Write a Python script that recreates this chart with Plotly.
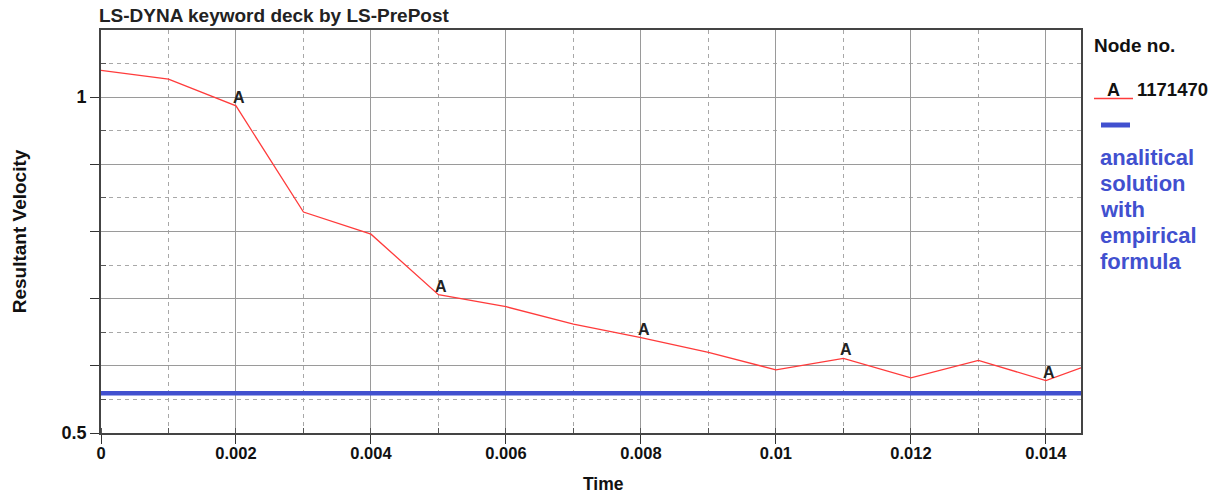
import plotly.graph_objects as go

# ---- data ----
time = [0.0, 0.001, 0.002, 0.003, 0.004, 0.005, 0.006, 0.007, 0.008,
        0.009, 0.010, 0.011, 0.012, 0.013, 0.014, 0.01452]
velocity = [1.040, 1.027, 0.987, 0.829, 0.796, 0.706, 0.688, 0.662, 0.642,
            0.620, 0.594, 0.611, 0.582, 0.608, 0.578, 0.597]
label_idx = [2, 5, 8, 11, 14]          # points carrying the "A" marker label
analytic_value = 0.559                 # analytical solution (constant)
x_range = [0.0, 0.01452]
y_range = [0.5, 1.1]
x_ticks = [0, 0.002, 0.004, 0.006, 0.008, 0.010, 0.012, 0.014]
x_ticktext = ["0", "0.002", "0.004", "0.006", "0.008", "0.01", "0.012", "0.014"]
y_ticks = [0.5, 0.6, 0.7, 0.8, 0.9, 1.0]
y_ticktext = ["0.5", "", "", "", "", "1"]
node_no = "1171470"
analytic_label = ["analitical", "solution", "with", "empirical", "formula"]

FONT = "Liberation Sans, Arial, sans-serif"
RED = "#ff3b3b"
BLUE = "#4150cf"

# plot area in pixels: left 101, right 1081, top 30, bottom 433
L, R, T, B = 101, 1081, 30, 433


def px_to_paper(px, py):
    return (px - L) / (R - L), (B - py) / (B - T)


fig = go.Figure()

fig.add_trace(go.Scatter(
    x=[x_range[0] - 0.00005, x_range[1] + 0.0001],
    y=[analytic_value, analytic_value],
    mode="lines", line=dict(color=BLUE, width=4.5),
    showlegend=False, cliponaxis=False, hoverinfo="skip"))

fig.add_trace(go.Scatter(
    x=time, y=velocity, mode="lines",
    line=dict(color=RED, width=1.3), showlegend=False))

annotations = []
for i in label_idx:
    annotations.append(dict(
        x=time[i], y=velocity[i], text="<b>A</b>", showarrow=False,
        xanchor="center", yanchor="bottom", xshift=3, yshift=-2,
        font=dict(family=FONT, size=16, color="#222")))

# title
annotations.append(dict(
    x=0, y=1, xref="paper", yref="paper", text="<b>LS-DYNA keyword deck by LS-PrePost</b>",
    showarrow=False, xanchor="left", yanchor="bottom", xshift=-4, yshift=2,
    font=dict(family=FONT, size=19, color="#222")))

# x-axis title
tx, ty = px_to_paper(603, 484)
annotations.append(dict(x=tx, y=ty, xref="paper", yref="paper", text="<b>Time</b>",
                        showarrow=False, xanchor="center", yanchor="middle", borderpad=0,
                        font=dict(family=FONT, size=17.5, color="#111")))

# legend (drawn manually)
lx, ly = px_to_paper(1092, 45)
annotations.append(dict(x=lx, y=ly, xref="paper", yref="paper", text="<b>Node no.</b>",
                        showarrow=False, xanchor="left", yanchor="middle",
                        font=dict(family=FONT, size=19, color="#111")))
lx, ly = px_to_paper(1113, 90)
annotations.append(dict(x=lx, y=ly, xref="paper", yref="paper", text="<b>A</b>",
                        showarrow=False, xanchor="center", yanchor="middle",
                        font=dict(family=FONT, size=18, color="#111")))
lx, ly = px_to_paper(1135, 90)
annotations.append(dict(x=lx, y=ly, xref="paper", yref="paper", text="<b>" + node_no + "</b>",
                        showarrow=False, xanchor="left", yanchor="middle",
                        font=dict(family=FONT, size=18.5, color="#111")))
for k, line in enumerate(analytic_label):
    lx, ly = px_to_paper(1098, 157 + 26 * k)
    annotations.append(dict(x=lx, y=ly, xref="paper", yref="paper",
                            text="<b>" + line + "</b>",
                            showarrow=False, xanchor="left", yanchor="middle", align="left",
                            font=dict(family=FONT, size=22, color=BLUE)))

shapes = []
x0, y0 = px_to_paper(1094, 98.5)
x1, _ = px_to_paper(1133, 98.5)
shapes.append(dict(type="line", xref="paper", yref="paper", x0=x0, x1=x1, y0=y0, y1=y0,
                   line=dict(color=RED, width=1.3)))
x0, y0 = px_to_paper(1101, 125)
x1, _ = px_to_paper(1130, 125)
shapes.append(dict(type="line", xref="paper", yref="paper", x0=x0, x1=x1, y0=y0, y1=y0,
                   line=dict(color=BLUE, width=5)))

fig.update_layout(
    width=1217, height=495,
    margin=dict(l=L, r=1217 - R, t=T, b=495 - B),
    paper_bgcolor="white", plot_bgcolor="white",
    font=dict(family=FONT, color="#111"),
    annotations=annotations, shapes=shapes,
    xaxis=dict(
        range=x_range, tickmode="array", tickvals=x_ticks,
        ticktext=["<b>" + t + "</b>" for t in x_ticktext],
        tickfont=dict(size=16.5, family=FONT, color="#111"),
        ticks="outside", ticklen=9, tickcolor="#333", tickwidth=1.2,
        ticklabelstandoff=-5,
        showline=True, linecolor="#444", linewidth=1.8, mirror=True,
        showgrid=True, gridcolor="#9a9a9a", gridwidth=1,
        zeroline=False, automargin=False,
        minor=dict(dtick=0.001, tick0=0, showgrid=True, gridcolor="#a8a8a8",
                   griddash="4px,4px", gridwidth=1, ticks="inside", ticklen=5,
                   tickcolor="#555"),
    ),
    yaxis=dict(
        range=y_range, tickmode="array", tickvals=y_ticks,
        ticktext=["<b>" + t + "</b>" if t else "" for t in y_ticktext],
        tickfont=dict(size=18, family=FONT, color="#111"),
        ticks="outside", ticklen=9, tickcolor="#333", tickwidth=1.2,
        showline=True, linecolor="#444", linewidth=1.8, mirror=True,
        showgrid=True, gridcolor="#9a9a9a", gridwidth=1,
        zeroline=False, automargin=False,
        minor=dict(tickvals=[0.55, 0.65, 0.75, 0.85, 0.95, 1.05], showgrid=True,
                   gridcolor="#a8a8a8", griddash="4px,4px", gridwidth=1,
                   ticks="inside", ticklen=5, tickcolor="#555"),
        title=dict(text="<b>Resultant Velocity</b>",
                   font=dict(size=19, family=FONT, color="#111"), standoff=30),
    ),
)

fig.write_html("out.html", config={"displayModeBar": False},
               post_script="document.body.style.margin='0';document.body.style.overflow='hidden';")
